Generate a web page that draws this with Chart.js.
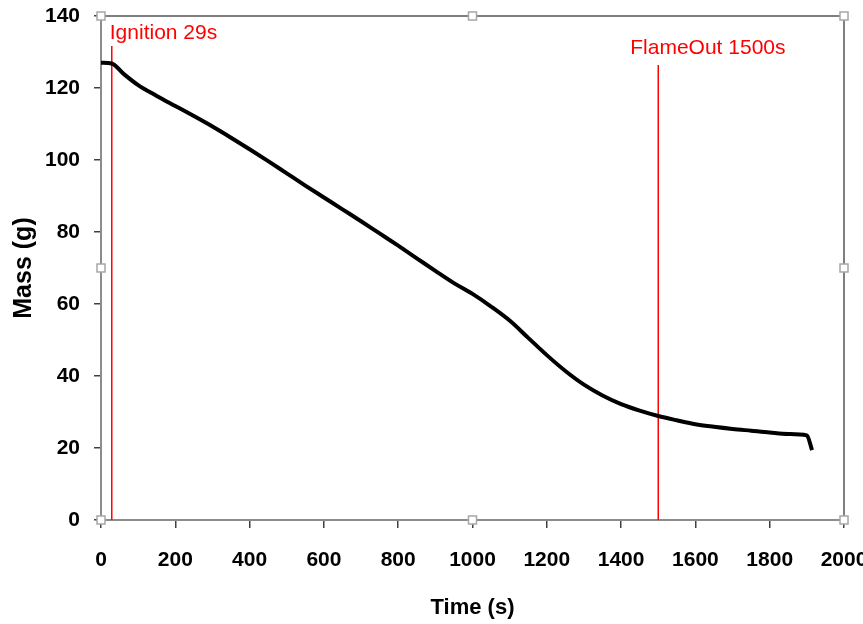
<!DOCTYPE html>
<html>
<head>
<meta charset="utf-8">
<script src="https://cdn.jsdelivr.net/npm/chart.js@4.4.1/dist/chart.umd.min.js"></script>
<style>
    html, body { margin: 0; padding: 0; background: #fff; }
    #wrap { width: 863px; height: 624px; position: relative; }
</style>
</head>
<body>
<div id="wrap"><canvas id="massChart"></canvas></div>
<script>
// mass loss curve
const timeS = [0, 29, 60, 100, 150, 200, 250, 300, 350, 400, 450, 500, 550, 600, 650, 700, 750, 800, 850, 900, 950, 1000,
    1050, 1100, 1150, 1200, 1250, 1300, 1350, 1400, 1450, 1500, 1550, 1600, 1650, 1700, 1750, 1800, 1850, 1900, 1914];
const massG = [127, 126.8, 124, 120.8, 117.8, 115, 112.2, 109.3, 106.2, 103, 99.7, 96.3, 92.9, 89.6, 86.3, 83, 79.6, 76.2, 72.7, 69.2, 65.8, 62.8,
    59.3, 55.4, 50.6, 45.8, 41.4, 37.6, 34.6, 32.2, 30.4, 28.9, 27.7, 26.6, 25.9, 25.3, 24.8, 24.3, 23.9, 23.5, 19.4];

// event markers
const eventLabels = ['Ignition 29s', 'FlameOut 1500s'];
const eventTimes = [29, 1500];
const eventTops = [131.7, 126.4];

const xTicks = [0, 200, 400, 600, 800, 1000, 1200, 1400, 1600, 1800, 2000];
const yTicks = [0, 20, 40, 60, 80, 100, 120, 140];

const tickFont = { family: 'Liberation Sans', size: 21, weight: 'bold' };

const eventDatasets = eventTimes.map((t, i) => ({
    label: eventLabels[i],
    data: [{ x: t, y: 0 }, { x: t, y: eventTops[i] }],
    borderColor: '#ff0000',
    borderWidth: 1.5,
    pointRadius: 0,
    tension: 0
}));

const textOffsets = [{ dx: -2, dy: -13 }, { dx: -28, dy: -17 }];

const decorPlugin = {
    id: 'decor',
    afterDatasetsDraw(chart) {
        const { ctx, chartArea: a, scales } = chart;
        ctx.save();
        // event labels
        ctx.fillStyle = '#ff0000';
        ctx.font = '21px "Liberation Sans"';
        ctx.textBaseline = 'middle';
        ctx.textAlign = 'left';
        eventTimes.forEach((t, i) => {
            const px = scales.x.getPixelForValue(t);
            const py = scales.y.getPixelForValue(eventTops[i]);
            ctx.fillText(eventLabels[i], px + textOffsets[i].dx, py + textOffsets[i].dy);
        });
        // top and right frame
        ctx.strokeStyle = '#7f7f7f';
        ctx.lineWidth = 2;
        ctx.beginPath();
        ctx.moveTo(a.left, a.top);
        ctx.lineTo(a.right, a.top);
        ctx.lineTo(a.right, a.bottom);
        ctx.stroke();
        // selection handles
        const midX = (a.left + a.right) / 2;
        const midY = (a.top + a.bottom) / 2;
        const handles = [
            [a.left, a.top], [midX, a.top], [a.right, a.top],
            [a.left, midY], [a.right, midY],
            [a.left, a.bottom], [midX, a.bottom], [a.right, a.bottom]
        ];
        ctx.fillStyle = '#ffffff';
        ctx.strokeStyle = '#a6a6a6';
        ctx.lineWidth = 1.5;
        handles.forEach(([hx, hy]) => {
            ctx.fillRect(hx - 4, hy - 4, 8, 8);
            ctx.strokeRect(hx - 4, hy - 4, 8, 8);
        });
        ctx.restore();
    }
};

new Chart(document.getElementById('massChart'), {
    type: 'line',
    data: {
        datasets: [
            {
                label: 'Mass',
                data: timeS.map((t, i) => ({ x: t, y: massG[i] })),
                borderColor: '#000000',
                borderWidth: 4,
                pointRadius: 0,
                cubicInterpolationMode: 'monotone'
            },
            ...eventDatasets
        ]
    },
    options: {
        responsive: true,
        maintainAspectRatio: false,
        animation: false,
        layout: { padding: { top: 16, right: 19, left: 0, bottom: 0 } },
        plugins: {
            legend: { display: false },
            tooltip: { enabled: false }
        },
        scales: {
            x: {
                type: 'linear',
                min: 0,
                max: 2000,
                afterFit: (scale) => {
                    scale.height = 104;
                    scale.paddingLeft = 0;
                    scale.paddingRight = 0;
                },
                afterBuildTicks: (scale) => {
                    scale.ticks = xTicks.map(v => ({ value: v }));
                },
                ticks: { color: '#000', font: tickFont, padding: 20, maxRotation: 0, autoSkip: false, callback: v => String(v) },
                grid: { drawOnChartArea: false, drawTicks: true, tickLength: 8, color: '#404040', lineWidth: 1.5 },
                border: { display: true, color: '#8c8c8c', width: 2 },
                title: { display: true, text: 'Time (s)', color: '#000', font: { family: 'Liberation Sans', size: 22, weight: 'bold' }, padding: 3 }
            },
            y: {
                min: 0,
                max: 140,
                afterFit: (scale) => {
                    scale.width = 101;
                    scale.paddingTop = 0;
                    scale.paddingBottom = 0;
                },
                afterBuildTicks: (scale) => {
                    scale.ticks = yTicks.map(v => ({ value: v }));
                },
                ticks: { color: '#000', font: tickFont, padding: 14, callback: v => String(v) },
                grid: { drawOnChartArea: false, drawTicks: true, tickLength: 7, color: '#404040', lineWidth: 1.5 },
                border: { display: true, color: '#8c8c8c', width: 2 },
                title: { display: true, text: 'Mass (g)', color: '#000', font: { family: 'Liberation Sans', size: 25, weight: 'bold' }, padding: 9 }
            }
        }
    },
    plugins: [decorPlugin]
});
</script>
</body>
</html>
